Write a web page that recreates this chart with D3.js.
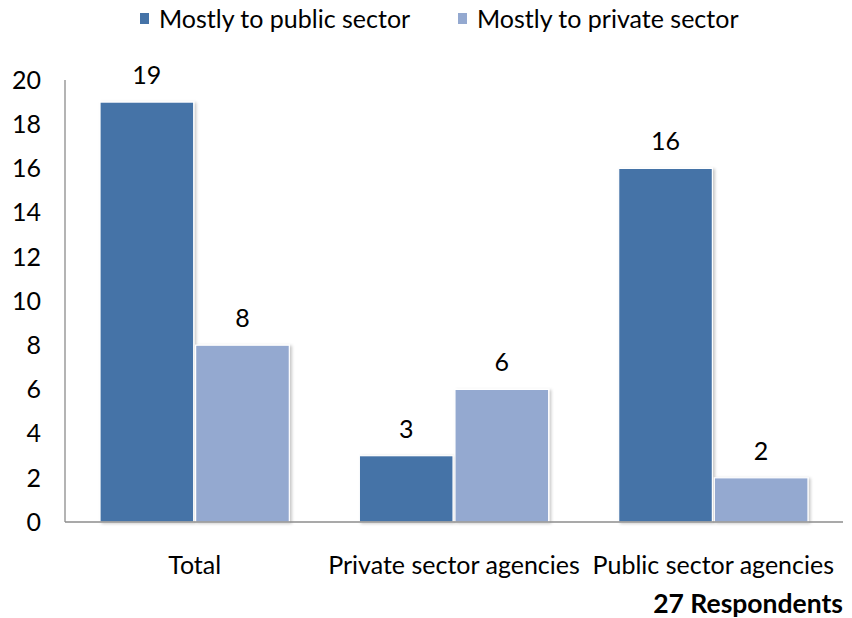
<!DOCTYPE html>
<html>
<head>
<meta charset="utf-8">
<script src="https://cdn.jsdelivr.net/npm/d3@7"></script>
<style>
  html, body { margin: 0; padding: 0; background: #fff; }
  svg text { font-family: Lato, "Open Sans", sans-serif; fill: #000; }
</style>
</head>
<body>
<svg id="chart" width="852" height="618"></svg>
<script>
// Chart data
const categories = ["Total", "Private sector agencies", "Public sector agencies"];
const seriesNames = ["Mostly to public sector", "Mostly to private sector"];
const publicValues = [19, 3, 16];
const privateValues = [8, 6, 2];
const yTicks = [0, 2, 4, 6, 8, 10, 12, 14, 16, 18, 20];
const colors = ["#4573A7", "#94A9D0"];
const footnote = "27 Respondents";

const svg = d3.select("#chart");
const margin = { left: 65, right: 9, top: 80, bottom: 96 };
const W = 852, H = 618;
const FS = 25;

const x0 = d3.scaleBand().domain(categories).range([margin.left, W - margin.right]);
const bw = x0.bandwidth();
const x1 = d3.scaleBand().domain(seriesNames).range([bw * 0.135, bw * 0.865]).paddingInner(0.02);
const y = d3.scaleLinear().domain([0, 20]).range([H - margin.bottom, margin.top]);

const defs = svg.append("defs");
const f = defs.append("filter").attr("id", "shadow").attr("x", "-10%").attr("y", "-10%").attr("width", "130%").attr("height", "120%");
f.append("feDropShadow").attr("dx", 2).attr("dy", 1).attr("stdDeviation", 1.5).attr("flood-color", "#000").attr("flood-opacity", 0.22);

const rows = categories.map((c, i) => ({ cat: c, vals: [publicValues[i], privateValues[i]] }));

// Bars
const groups = svg.append("g").selectAll("g").data(rows).join("g")
  .attr("transform", d => `translate(${x0(d.cat)},0)`);

groups.selectAll("rect").data(d => d.vals.map((v, j) => ({ v, s: seriesNames[j], j })))
  .join("rect")
  .attr("x", d => x1(d.s))
  .attr("y", d => y(d.v))
  .attr("width", x1.bandwidth())
  .attr("height", d => y(0) - y(d.v))
  .attr("fill", d => colors[d.j])
  .attr("stroke", "#fff")
  .attr("stroke-width", 1.2)
  .attr("filter", "url(#shadow)");

// Value labels
groups.selectAll("text.val").data(d => d.vals.map((v, j) => ({ v, s: seriesNames[j] })))
  .join("text")
  .attr("class", "val")
  .attr("x", d => x1(d.s) + x1.bandwidth() / 2)
  .attr("y", d => y(d.v) - 18)
  .attr("text-anchor", "middle")
  .attr("font-size", FS)
  .text(d => d.v);

// Axis lines
svg.append("line")
  .attr("x1", margin.left).attr("x2", margin.left)
  .attr("y1", y(20)).attr("y2", y(0))
  .attr("stroke", "#8c8c8c").attr("stroke-width", 1.3);
svg.append("line")
  .attr("x1", margin.left).attr("x2", W - margin.right)
  .attr("y1", y(0)).attr("y2", y(0))
  .attr("stroke", "#8c8c8c").attr("stroke-width", 1.3);

// Y tick labels
svg.append("g").selectAll("text").data(yTicks).join("text")
  .attr("x", 41)
  .attr("y", d => y(d))
  .attr("dy", "0.35em")
  .attr("text-anchor", "end")
  .attr("font-size", FS)
  .text(d => d);

// Category labels
svg.append("g").selectAll("text").data(categories).join("text")
  .attr("x", d => x0(d) + x0.bandwidth() / 2)
  .attr("y", 574)
  .attr("text-anchor", "middle")
  .attr("font-size", FS)
  .text(d => d);

// Footnote
svg.append("text")
  .attr("x", W - margin.right)
  .attr("y", 613)
  .attr("text-anchor", "end")
  .attr("font-size", 26.5)
  .attr("font-weight", "bold")
  .text(footnote);

// Legend
const legendX = [140, 458];
const lg = svg.append("g").selectAll("g").data(seriesNames).join("g")
  .attr("transform", (d, i) => `translate(${legendX[i]},0)`);
lg.append("rect").attr("x", 0).attr("y", 13).attr("width", 9).attr("height", 11)
  .attr("fill", (d, i) => colors[i]);
lg.append("text").attr("x", 19).attr("y", 19).attr("dy", "0.35em")
  .attr("font-size", FS).text(d => d);
</script>
</body>
</html>
